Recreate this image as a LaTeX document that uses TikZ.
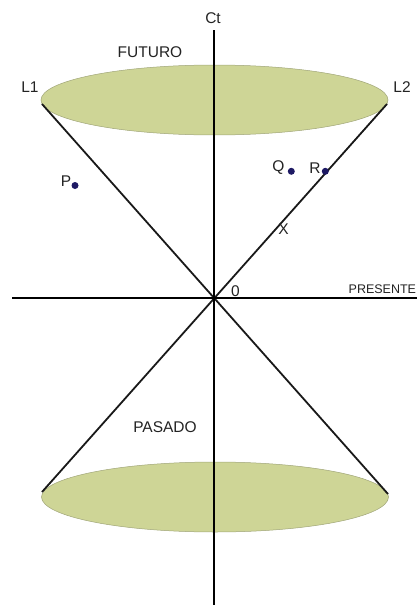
\documentclass[tikz,border=0pt]{standalone}
\usepackage{fontspec}
\setmainfont{Liberation Sans}
\usetikzlibrary{shapes.geometric}
\definecolor{conefill}{RGB}{206,213,150}
\definecolor{coneedge}{RGB}{160,165,120}
\definecolor{dotblue}{RGB}{30,26,100}
\definecolor{txt}{RGB}{35,35,35}
\tikzset{
  lbl/.style={inner sep=0pt, text=txt, font=\fontsize{15.5}{18}\selectfont},
  smalllbl/.style={inner sep=0pt, text=txt, font=\fontsize{12.5}{15}\selectfont},
  axis/.style={line width=2pt, black},
  coneline/.style={line width=1.8pt, black!90},
  disc/.style={fill=conefill, draw=coneedge, line width=0.5pt},
  pt/.style={circle, fill=dotblue, inner sep=0pt, minimum size=7pt}
}
\begin{document}
\begin{tikzpicture}[x=1pt,y=-1pt]
\useasboundingbox (0,0) rectangle (417,605);
% discs
\node[disc, ellipse, minimum width=347pt, minimum height=70pt, inner sep=0pt] (top) at (214.5,100) {};
\node[disc, ellipse, minimum width=347pt, minimum height=70pt, inner sep=0pt] (bot) at (215,497) {};
% cone points
\coordinate (a1) at (42,104);
\coordinate (a2) at (387,104);
\coordinate (b1) at (42,492);
\coordinate (b2) at (388,494);
\draw[coneline] (a1) -- (b2);
\draw[coneline] (a2) -- (b1);
% axes
\coordinate (vt) at (213.5,30);
\coordinate (vb) at (213.5,605);
\coordinate (hl) at (12,298);
\coordinate (hr) at (417,298);
\draw[axis] (vt) -- (vb);
\draw[axis] (hl) -- (hr);
% labels
\node[lbl] (ct) at (213,18) {Ct};
\node[lbl] (fut) at (150,52) {FUTURO};
\node[lbl] (l1) at (30,87.5) {L1};
\node[lbl] (l2) at (402,87.5) {L2};
\node[lbl] (p) at (66,181.5) {P};
\node[pt] (pd) at (75,185.5) {};
\node[lbl] (q) at (278.5,168) {Q};
\node[pt] (qd) at (291.3,171.3) {};
\node[lbl] (r) at (315,168) {R};
\node[pt] (rd) at (325.3,171.3) {};
\node[lbl] (x) at (283.5,229.5) {X};
\node[lbl] (zero) at (235.5,291) {0};
\node[smalllbl, anchor=west] (pres) at (348.5,289.5) {PRESENTE};
\node[lbl] (pas) at (165,427.5) {PASADO};
\end{tikzpicture}
\end{document}
